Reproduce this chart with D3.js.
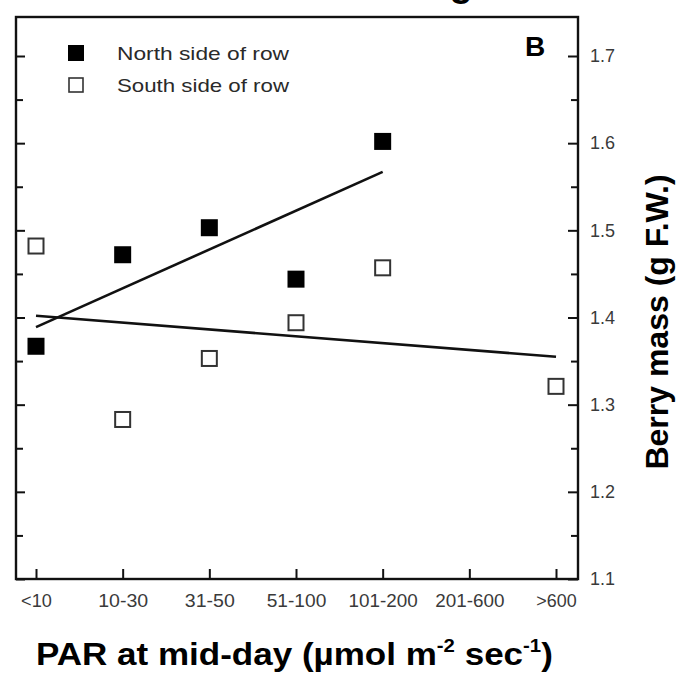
<!DOCTYPE html>
<html>
<head>
    <meta charset="utf-8">
    <title>Berry mass vs PAR</title>
    <script type="text/javascript" src="https://cdn.jsdelivr.net/npm/d3@7"></script>
    <style>
        body { margin: 0; background: #fff; }
        svg text { font-family: "Liberation Sans", Arial, sans-serif; }
        .axis line { stroke: #111; stroke-width: 2; }
        .axis path { display: none; }
        .axis text { fill: #3a3a3a; font-size: 18px; font-family: "Liberation Sans", Arial, sans-serif; }
    </style>
</head>
<body>
<script type="text/javascript">

    // categories on the x axis
    var categories = ["<10", "10-30", "31-50", "51-100", "101-200", "201-600", ">600"];

    // berry mass (g F.W.), null = no point
    var northValues = [1.367, 1.472, 1.503, 1.444, 1.602, null, null];
    var southValues = [1.482, 1.283, 1.353, 1.394, 1.457, null, 1.321];

    // fitted lines: [category, value]
    var northFit = [["<10", 1.389], ["101-200", 1.567]];
    var southFit = [["<10", 1.402], [">600", 1.355]];

    var yMajor = [1.1, 1.2, 1.3, 1.4, 1.5, 1.6, 1.7];
    var yMinor = [1.15, 1.25, 1.35, 1.45, 1.55, 1.65];

    var seriesNames = ["North side of row", "South side of row"];

    var width = 678,
        height = 675,
        plotLeft = 16, plotRight = 578, plotTop = 17, plotBottom = 579;

    var x = d3.scalePoint()
        .domain(categories)
        .range([36, 556]);

    var y = d3.scaleLinear()
        .domain([1.1, 1.7])
        .range([plotBottom, 56]);

    var svg = d3.select('body').append('svg')
        .attr('width', width)
        .attr('height', height);

    // cut-off title descender at the very top
    svg.append('text')
        .attr('x', 461).attr('y', -4)
        .attr('text-anchor', 'middle')
        .style('font-size', '38px').style('font-weight', 'bold')
        .text('g');

    // frame
    svg.append('rect')
        .attr('x', plotLeft).attr('y', plotTop)
        .attr('width', plotRight - plotLeft).attr('height', plotBottom - plotTop)
        .attr('fill', 'none').attr('stroke', '#111').attr('stroke-width', 2.4);

    // left axis (ticks only, inward)
    svg.append('g').classed('axis', true)
        .attr('transform', 'translate(' + plotLeft + ',0)')
        .call(d3.axisLeft(y).tickValues(yMajor).tickSize(-9).tickFormat(''));
    svg.append('g').classed('axis', true)
        .attr('transform', 'translate(' + plotLeft + ',0)')
        .call(d3.axisLeft(y).tickValues(yMinor).tickSize(-7).tickFormat(''));

    // right axis with labels
    svg.append('g').classed('axis', true)
        .attr('transform', 'translate(' + plotRight + ',0)')
        .call(d3.axisRight(y).tickValues(yMajor).tickSize(-10).tickPadding(12)
            .tickFormat(d3.format('.1f')));
    svg.append('g').classed('axis', true)
        .attr('transform', 'translate(' + plotRight + ',0)')
        .call(d3.axisRight(y).tickValues(yMinor).tickSize(-7).tickFormat(''));

    // bottom axis
    svg.append('g').classed('axis', true)
        .attr('transform', 'translate(0,' + plotBottom + ')')
        .call(d3.axisBottom(x).tickSize(-10).tickPadding(15))
        .selectAll('text')
        .attr('textLength', function(d){ return d.length * 9.6 + 2; })
        .attr('lengthAdjust', 'spacingAndGlyphs');

    // fitted lines
    var line = d3.line()
        .x(function(d){ return x(d[0]); })
        .y(function(d){ return y(d[1]); });

    [northFit, southFit].forEach(function(fit){
        svg.append('path')
            .attr('d', line(fit))
            .attr('fill', 'none')
            .attr('stroke', '#111')
            .attr('stroke-width', 2.6);
    });

    // points
    var s = 17;
    function pts(values){
        return values.map(function(v, i){ return {c: categories[i], v: v}; })
            .filter(function(d){ return d.v !== null; });
    }

    svg.selectAll('rect.north')
        .data(pts(northValues))
        .enter().append('rect')
        .attr('class', 'north')
        .attr('x', function(d){ return x(d.c) - s / 2; })
        .attr('y', function(d){ return y(d.v) - s / 2; })
        .attr('width', s).attr('height', s)
        .attr('fill', '#000');

    svg.selectAll('rect.south')
        .data(pts(southValues))
        .enter().append('rect')
        .attr('class', 'south')
        .attr('x', function(d){ return x(d.c) - (s - 2) / 2; })
        .attr('y', function(d){ return y(d.v) - (s - 2) / 2; })
        .attr('width', s - 2).attr('height', s - 2)
        .attr('fill', '#fff').attr('stroke', '#333').attr('stroke-width', 2);

    // legend
    var legend = svg.append('g');
    legend.append('rect')
        .attr('x', 68).attr('y', 45).attr('width', 16).attr('height', 16)
        .attr('fill', '#000');
    legend.append('rect')
        .attr('x', 69).attr('y', 78).attr('width', 14).attr('height', 14)
        .attr('fill', '#fff').attr('stroke', '#333').attr('stroke-width', 1.6);
    legend.selectAll('text')
        .data(seriesNames)
        .enter().append('text')
        .attr('x', 117)
        .attr('y', function(d, i){ return 60 + i * 32; })
        .attr('textLength', 172)
        .attr('lengthAdjust', 'spacingAndGlyphs')
        .style('font-size', '19px').style('fill', '#2a2a2a')
        .text(function(d){ return d; });

    // panel letter
    svg.append('text')
        .attr('x', 525).attr('y', 56)
        .style('font-size', '28px').style('font-weight', 'bold')
        .text('B');

    // axis titles
    var xt = svg.append('text')
        .attr('transform', 'translate(36,665) scale(1.13,1)')
        .style('font-size', '31px').style('font-weight', 'bold');
    xt.append('tspan').text('PAR at mid-day (\u00b5mol m');
    xt.append('tspan').attr('dy', -13).style('font-size', '18px').text('-2');
    xt.append('tspan').attr('dy', 13).text(' sec');
    xt.append('tspan').attr('dy', -13).style('font-size', '18px').text('-1');
    xt.append('tspan').attr('dy', 13).text(')');

    svg.append('text')
        .attr('transform', 'translate(668,322) rotate(-90)')
        .attr('text-anchor', 'middle')
        .style('font-size', '32px').style('font-weight', 'bold')
        .text('Berry mass (g F.W.)');

</script>
</body>
</html>
